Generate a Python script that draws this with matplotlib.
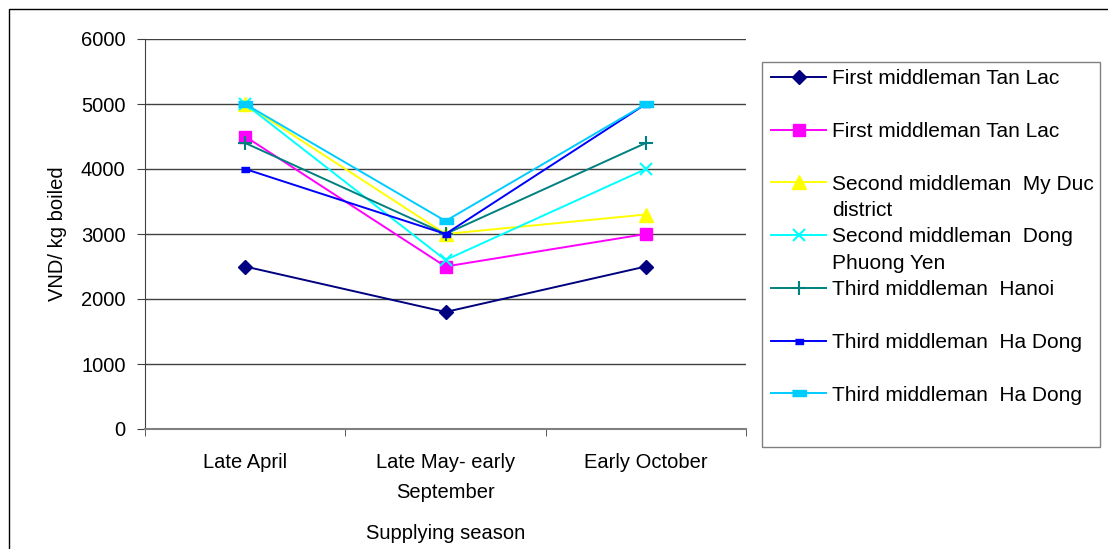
import matplotlib
matplotlib.use("Agg")
import matplotlib.pyplot as plt
from matplotlib.lines import Line2D
from matplotlib.patches import Rectangle

plt.rcParams['font.family'] = ['Liberation Sans', 'DejaVu Sans']

# data
seasons = ['Late April', 'Late May- early\nSeptember', 'Early October']
series_names = ['First middleman Tan Lac',
                'First middleman Tan Lac',
                'Second middleman  My Duc\ndistrict',
                'Second middleman  Dong\nPhuong Yen',
                'Third middleman  Hanoi',
                'Third middleman  Ha Dong',
                'Third middleman  Ha Dong']
tan_lac_1 = [2500, 1800, 2500]
tan_lac_2 = [4500, 2500, 3000]
my_duc = [5000, 3000, 3300]
dong_phuong_yen = [5000, 2600, 4000]
hanoi = [4400, 3000, 4400]
ha_dong_1 = [4000, 3000, 5000]
ha_dong_2 = [5000, 3200, 5000]
yticks = [0, 1000, 2000, 3000, 4000, 5000, 6000]

all_series = [tan_lac_1, tan_lac_2, my_duc, dong_phuong_yen, hanoi, ha_dong_1, ha_dong_2]

# styles
rect_small = [(-1, -0.6), (1, -0.6), (1, 0.6), (-1, 0.6)]
rect_wide = [(-1, -0.45), (1, -0.45), (1, 0.45), (-1, 0.45)]
styles = [
    dict(color='#000080', marker='D', ms=7),
    dict(color='#FF00FF', marker='s', ms=8.5),
    dict(color='#FFFF00', marker='^', ms=9.5),
    dict(color='#00FFFF', marker='x', ms=9, mew=1.5),
    dict(color='#008080', marker='+', ms=10, mew=1.5),
    dict(color='#0000FF', marker=rect_small, ms=6),
    dict(color='#00CCFF', marker=rect_wide, ms=10),
]

fig = plt.figure(figsize=(11.08, 5.49), dpi=100)
ax = fig.add_axes([145 / 1108, 1 - 429 / 549, 601 / 1108, 390 / 549])

x = list(range(len(seasons)))
handles = []
for vals, st in zip(all_series, styles):
    ln, = ax.plot(x, vals, lw=1.4, **st)
    handles.append(ln)

ax.set_xlim(-0.5, 2.5)
ax.set_ylim(0, 6000)
ax.set_yticks(yticks)
ax.set_xticks(x)
ax.set_xticklabels(seasons, fontsize=14.5)
for t in ax.get_xticklabels():
    t.set_linespacing(1.75)
ax.set_xticks([-0.5, 0.5, 1.5, 2.5], minor=True)
ax.tick_params(axis='x', which='major', length=0, pad=17)
ax.tick_params(axis='x', which='minor', length=5, direction='out', color='#404040')
ax.tick_params(axis='y', labelsize=14.5, length=6, direction='out', pad=8, color='#404040')
ax.yaxis.grid(True, color='#404040', lw=1)
ax.set_axisbelow(True)
for s in ['top', 'right']:
    ax.spines[s].set_visible(False)
ax.spines['left'].set_color('#404040')
ax.spines['bottom'].set_color('#808080')
ax.spines['bottom'].set_linewidth(1.5)
ax.set_xlabel('Supplying season', fontsize=14.5, labelpad=16)
ax.set_ylabel('VND/ kg boiled', fontsize=14.5, labelpad=10)

# legend: each entry takes two line slots
blank = Line2D([], [], linestyle='none')
leg_handles, leg_labels = [], []
for h, name in zip(handles, series_names):
    parts = name.split('\n')
    leg_handles += [h, blank]
    leg_labels += [parts[0], parts[1] if len(parts) > 1 else '']
leg = fig.legend(leg_handles, leg_labels, loc='upper left',
                 bbox_to_anchor=(771 / 1108, 1 - 69 / 549),
                 frameon=False, fontsize=15, handlelength=2.65, handletextpad=0.3,
                 labelspacing=0.355, borderpad=0, borderaxespad=0)

fig.patches.append(Rectangle((762 / 1108, 1 - 447 / 549), 338 / 1108, 385 / 549,
                             transform=fig.transFigure, fill=False,
                             edgecolor='#808080', lw=1))
fig.patches.append(Rectangle((9 / 1108, -0.1), 1.2, 1.1 - 9 / 549,
                             transform=fig.transFigure, fill=False,
                             edgecolor='black', lw=1))

fig.savefig('out.png', dpi=100)
